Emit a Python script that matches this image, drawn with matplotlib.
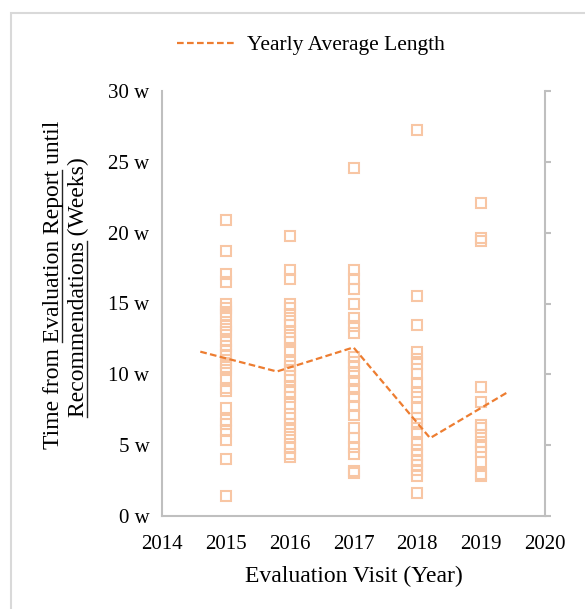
import numpy as np
import matplotlib
matplotlib.use("Agg")
import matplotlib.pyplot as plt
from matplotlib.patches import Rectangle
from matplotlib.lines import Line2D

plt.rcParams["font.family"] = ["Liberation Serif", "DejaVu Serif"]

# weeks from evaluation report until recommendations, per visit year
weeks_2015 = [20.9, 18.7, 17.1, 16.5, 15.0, 14.7, 14.4, 14.1, 13.5, 13.2, 13.0, 12.35, 12.0,
              11.7, 11.4, 10.8, 10.5, 10.3, 9.7, 9.05, 8.8, 7.6, 6.8, 6.5, 6.0, 5.4, 4.0, 1.4]
weeks_2016 = [19.8, 17.4, 16.7, 15.0, 14.7, 14.2, 13.8, 13.45, 13.0, 12.55, 12.3, 11.7, 10.9,
              10.6, 10.3, 9.9, 9.6, 9.1, 8.75, 8.4, 7.9, 7.2, 6.9, 6.5, 6.05, 5.6, 5.1, 4.8, 4.4, 4.2]
weeks_2017 = [24.55, 17.4, 16.7, 16.0, 15.0, 14.0, 13.4, 12.9, 11.2, 10.9, 10.6, 10.1, 9.5,
              9.0, 8.4, 7.75, 7.1, 6.2, 5.5, 4.9, 4.4, 3.2, 3.05]
weeks_2018 = [27.25, 15.5, 13.5, 11.6, 11.1, 10.75, 10.0, 9.4, 8.75, 8.4, 7.6, 6.95, 6.5,
              5.9, 5.05, 4.65, 4.3, 3.9, 3.6, 3.25, 2.8, 1.65]
weeks_2019 = [22.1, 19.6, 19.4, 9.1, 8.05, 6.4, 6.2, 5.7, 5.2, 4.9, 4.5, 3.8, 3.0, 2.8]

years = [2015, 2016, 2017, 2018, 2019]
weeks = [weeks_2015, weeks_2016, weeks_2017, weeks_2018, weeks_2019]
yearly_avg = [11.6, 10.2, 11.9, 5.5, 8.7]

x_ticks = [2014, 2015, 2016, 2017, 2018, 2019, 2020]
y_ticks = [0, 5, 10, 15, 20, 25, 30]
y_labels = [f"{t} w" for t in y_ticks]

spine_color = "#BFBFBF"
point_color = "#F8C6A4"
line_color = "#ED7D31"
W, H = 585, 609

fig = plt.figure(figsize=(W / 100, H / 100), dpi=100)
ax = fig.add_axes([162 / W, 1 - 516 / H, 383 / W, 425 / H])

for yr, w in zip(years, weeks):
    ax.plot([yr] * len(w), w, linestyle="none", marker="s", markersize=7.2,
            markerfacecolor="none", markeredgecolor=point_color, markeredgewidth=1.5)

ax.set_xlim(2014, 2020)
ax.set_ylim(0, 30)
ax.set_xticks(x_ticks)
ax.set_yticks(y_ticks)
ax.set_yticklabels(y_labels)
ax.tick_params(axis="x", length=0, pad=14, labelsize=15)
ax.tick_params(axis="y", left=False, right=True, labelleft=True, direction="out",
               length=4.5, width=1.5, color=spine_color, pad=4.5, labelsize=15)
ax.spines["top"].set_visible(False)
for side in ["left", "right", "bottom"]:
    ax.spines[side].set_color(spine_color)
    ax.spines[side].set_linewidth(1.5)
ax.set_xlabel("Evaluation Visit (Year)", fontsize=17, labelpad=8)

# yearly averages sit on a category axis of their own
ax2 = ax.twiny()
ax2.set_xlim(0, len(years))
ax2.plot(np.arange(len(years)) + 0.5, yearly_avg, color=line_color, linewidth=1.6,
         dashes=(3, 1.5), label="Yearly Average Length")
ax2.axis("off")

fig.legend(loc="center", bbox_to_anchor=(311 / W, 1 - 45 / H), frameon=False,
           fontsize=15.5, handlelength=2.8, handletextpad=0.45)

# two-line rotated y label with underlined phrases
renderer = fig.canvas.get_renderer()
label_size = 17


def text_width(s):
    t = fig.text(0, 0, s, fontsize=label_size)
    w = t.get_window_extent(renderer).width
    t.remove()
    return w


def rotated_line(x_base, y_mid, parts):
    full = "".join(p for p, _ in parts)
    fig.text(x_base / W, 1 - y_mid / H, full, rotation=90, rotation_mode="anchor",
             ha="center", va="baseline", fontsize=label_size)
    total = text_width(full)
    start_px = (H - y_mid) - total / 2
    pos = ""
    for p, under in parts:
        if under:
            y0 = start_px + text_width(pos + "x") - text_width("x") if pos else start_px
            y1 = start_px + text_width(pos + p)
            fig.add_artist(Line2D([(x_base + 2.5) / W] * 2, [y0 / H, y1 / H],
                                  color="#262626", linewidth=1.0))
        pos += p


rotated_line(59, 285, [("Time from ", False), ("Evaluation Report", True), (" until", False)])
rotated_line(84, 287, [("Recommendations", True), (" (Weeks)", False)])

fig.patches.append(Rectangle((11 / W, -0.1), 1.2, 1.1 - 13 / H, transform=fig.transFigure,
                             fill=False, edgecolor="#D9D9D9", linewidth=1.5))

fig.savefig("out.png", dpi=100)
